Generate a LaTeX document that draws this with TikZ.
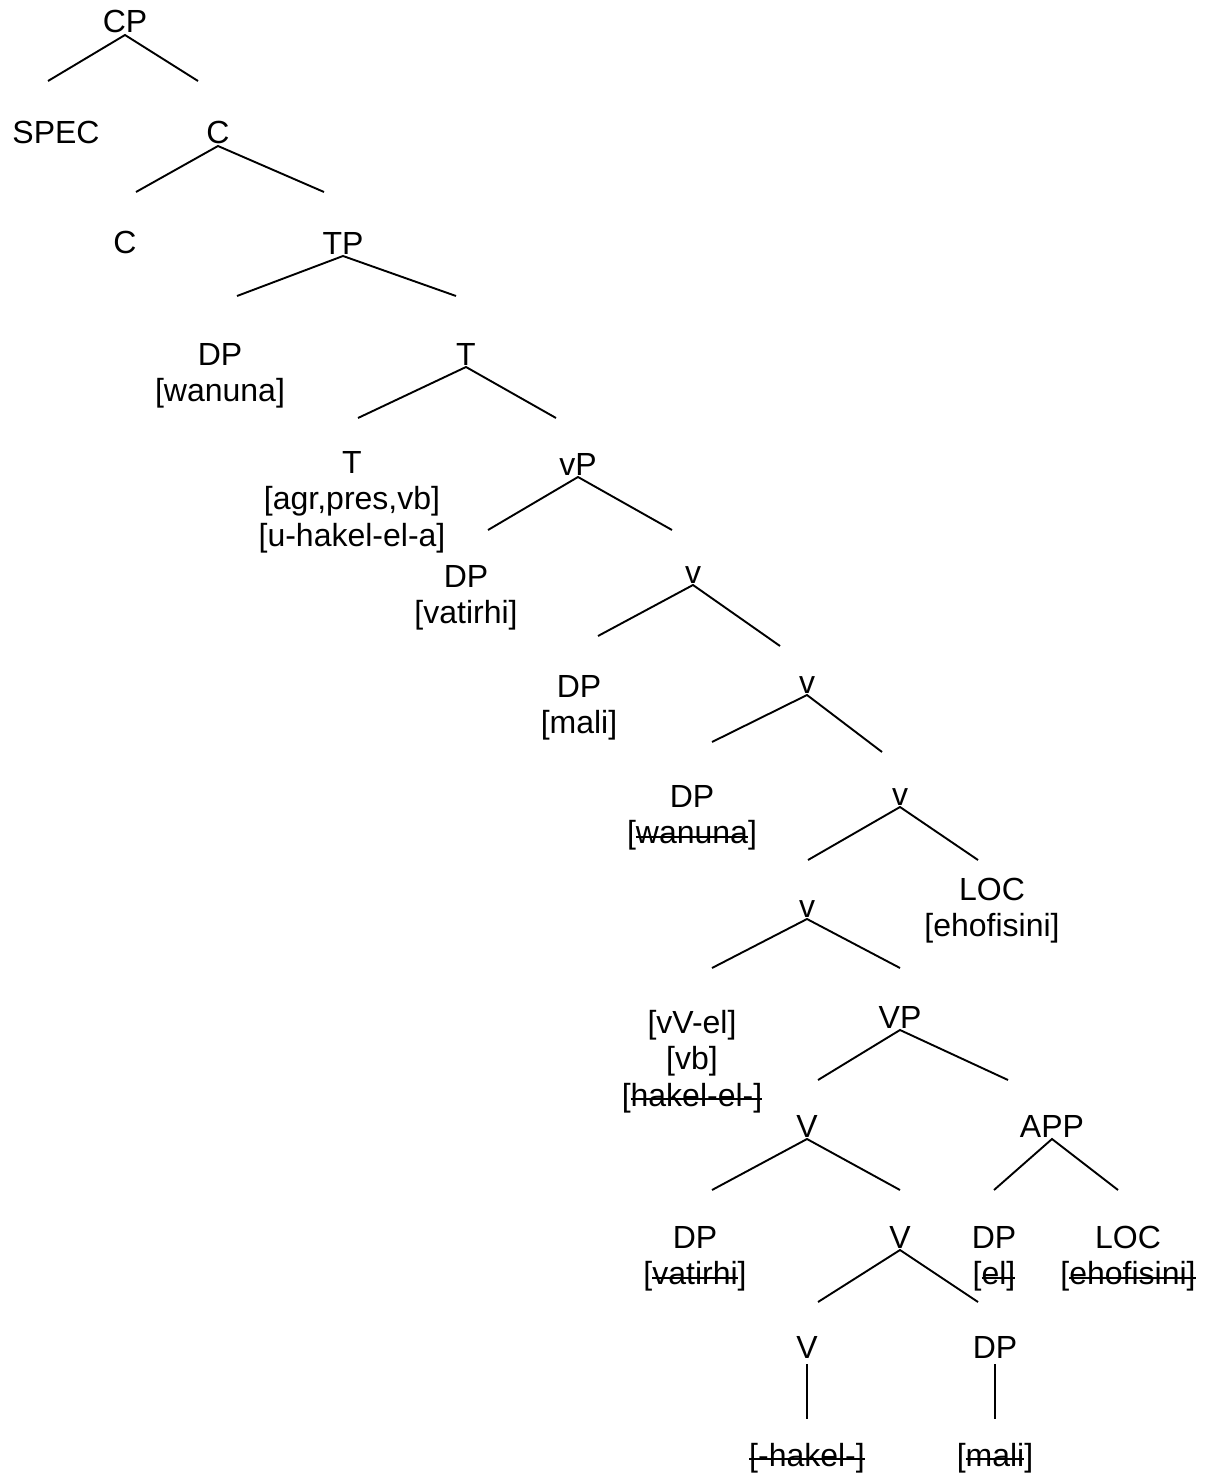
\documentclass[tikz,border=0pt]{standalone}
\usepackage{fontspec}
\setmainfont{Liberation Sans}
% struck-through text: a thick rule through the middle of the x-height
\newsavebox\strkbox
\newcommand\strk[1]{\sbox\strkbox{#1}\rlap{\rule[5.8pt]{\wd\strkbox}{1.8pt}}\usebox\strkbox}
% centred stack of lines whose baseline is the first line's
\newcommand\nodestack[1]{\begin{tabular}[t]{@{}c@{}}#1\end{tabular}}
\begin{document}
\begin{tikzpicture}[x=1pt,y=-1pt,
  lbl/.style={inner sep=0pt, anchor=base, font=\fontsize{32}{36.5}\selectfont},
  branch/.style={line width=1.9pt}]
\useasboundingbox (0,0) rectangle (1205,1474);

% ---- labels ----
\node[lbl] (cp)    at (125,33)   {CP};
\node[lbl] (spec)  at (56,144)   {SPEC};
\node[lbl] (cbar)  at (218,144)  {C};
\node[lbl] (chead) at (125,253)  {C};
\node[lbl] (tp)    at (343,254)  {TP};
\node[lbl] (dpsub) at (220,365)  {\nodestack{DP\\{}[wanuna]}};
\node[lbl] (tbar)  at (466,365)  {T};
\node[lbl] (thead) at (352,473)  {\nodestack{T\\{}[agr,pres,vb]\\{}[u-hakel-el-a]}};
\node[lbl] (vp)    at (578,475)  {vP};
\node[lbl] (dpobj) at (466,587)  {\nodestack{DP\\{}[vatirhi]}};
\node[lbl] (va)    at (693,583)  {v};
\node[lbl] (dpmal) at (579,697)  {\nodestack{DP\\{}[mali]}};
\node[lbl] (vb)    at (807,693)  {v};
\node[lbl] (dptr)  at (692,807)  {\nodestack{DP\\{}[\strk{wanuna}]}};
\node[lbl] (vc)    at (900,805)  {v};
\node[lbl] (vd)    at (807,917)  {v};
\node[lbl] (loca)  at (992,900)  {\nodestack{LOC\\{}[ehofisini]}};
\node[lbl] (vhead) at (692,1033) {\nodestack{[vV-el]\\{}[vb]\\{}[\strk{hakel-el-]}}};
\node[lbl] (bigvp) at (900,1028) {VP};
\node[lbl] (vbar)  at (807,1137) {V};
\node[lbl] (app)   at (1052,1137) {APP};
\node[lbl] (dpvt)  at (695,1248) {\nodestack{DP\\{}[\strk{vatirhi}]}};
\node[lbl] (vbar2) at (900,1248) {V};
\node[lbl] (dpel)  at (994,1248) {\nodestack{DP\\{}[\strk{el]}}};
\node[lbl] (locb)  at (1128,1248) {\nodestack{LOC\\{}[\strk{ehofisini]}}};
\node[lbl] (vroot) at (807,1358) {V};
\node[lbl] (dpml)  at (995,1358) {DP};
\node[lbl] (hakel) at (807,1466) {\strk{[-hakel-]}};
\node[lbl] (mali)  at (995,1466) {[\strk{mali}]};

% ---- free branch ends ----
\coordinate (cpL) at (48,81);     \coordinate (cpR) at (198,81);
\coordinate (cbL) at (136,192);   \coordinate (cbR) at (324,192);
\coordinate (tpL) at (237,296);   \coordinate (tpR) at (456,296);
\coordinate (tbL) at (358,418);   \coordinate (tbR) at (556,418);
\coordinate (vpL) at (488,530);   \coordinate (vpR) at (672,530);
\coordinate (vaL) at (598,636);   \coordinate (vaR) at (780,646);
\coordinate (vbL) at (712,742);   \coordinate (vbR) at (882,752);
\coordinate (vcL) at (808,860);   \coordinate (vcR) at (978,860);
\coordinate (vdL) at (712,968);   \coordinate (vdR) at (900,968);
\coordinate (bvL) at (818,1080);  \coordinate (bvR) at (1008,1080);
\coordinate (vbarL) at (712,1190); \coordinate (vbarR) at (900,1190);
\coordinate (appL) at (994,1190); \coordinate (appR) at (1118,1190);
\coordinate (vb2L) at (818,1302); \coordinate (vb2R) at (978,1302);
\coordinate (vrootD) at (807,1419);
\coordinate (dpmlD) at (995,1419);

% ---- branches ----
\foreach \n/\l/\r in {cp/cpL/cpR, cbar/cbL/cbR, tp/tpL/tpR, tbar/tbL/tbR,
                      vp/vpL/vpR, va/vaL/vaR, vb/vbL/vbR, vc/vcL/vcR,
                      vd/vdL/vdR, bigvp/bvL/bvR, vbar/vbarL/vbarR,
                      app/appL/appR, vbar2/vb2L/vb2R}
  \draw[branch] (\l) -- ([yshift=-2pt]\n.base) -- (\r);
\draw[branch] ([yshift=-6pt]vroot.base) -- (vrootD);
\draw[branch] ([yshift=-6pt]dpml.base) -- (dpmlD);
\end{tikzpicture}
\end{document}
